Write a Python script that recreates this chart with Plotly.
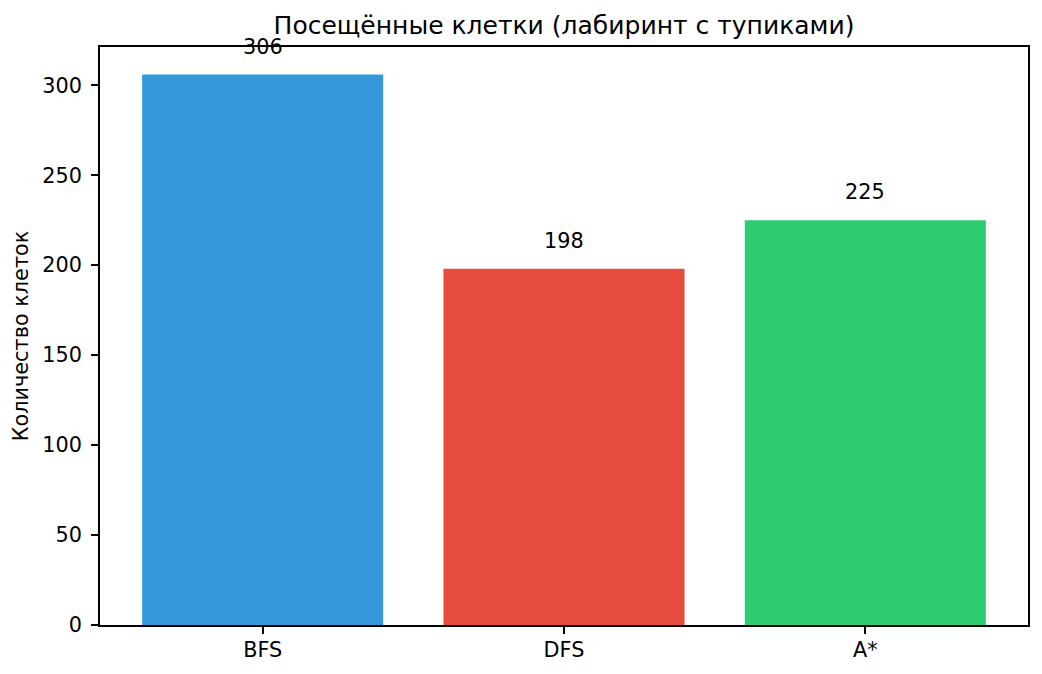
import plotly.graph_objects as go

# Visited cells per algorithm
algorithms = ["BFS", "DFS", "A*"]
visited = [306, 198, 225]
bar_colors = ["#3498db", "#e74c3c", "#2ecc71"]
y_ticks = [0, 50, 100, 150, 200, 250, 300]

font_family = "DejaVu Sans"

fig = go.Figure()

fig.add_trace(go.Bar(
    x=list(range(len(algorithms))),
    y=visited,
    width=0.8,
    marker=dict(color=bar_colors, line=dict(width=0)),
    showlegend=False,
))

# value labels above each bar
for i, v in enumerate(visited):
    fig.add_annotation(
        x=i, y=v + 10, text=str(v),
        xref="x", yref="y",
        xanchor="center", yanchor="bottom", yshift=-4,
        showarrow=False,
        font=dict(family=font_family, size=20.8, color="black"),
    )

axis_common = dict(
    showline=True, linecolor="black", linewidth=1.6, mirror=True,
    showgrid=False, zeroline=False,
    ticks="outside", ticklen=7, tickwidth=1.6, tickcolor="black",
    tickfont=dict(family=font_family, size=20.8, color="black"),
)

# page body has an 8px margin, so the figure is shrunk by that much
fig.update_layout(
    width=1034, height=666,
    margin=dict(l=90, r=14, t=39, b=42),
    plot_bgcolor="white", paper_bgcolor="white",
    font=dict(family=font_family, color="black"),
    title=dict(
        text="Посещённые клетки (лабиринт с тупиками)",
        x=0.5, xref="paper", xanchor="center",
        y=1, yref="paper", yanchor="bottom",
        pad=dict(b=13),
        font=dict(family=font_family, size=25, color="black"),
    ),
    xaxis=dict(
        **axis_common,
        range=[-0.54, 2.54],
        tickmode="array",
        tickvals=list(range(len(algorithms))),
        ticktext=algorithms,
        ticklabelstandoff=-2,
    ),
    yaxis=dict(
        **axis_common,
        range=[0, 321.3],
        tickmode="array",
        tickvals=y_ticks,
        ticklabelstandoff=5,
        title=dict(text="Количество клеток", standoff=8,
                   font=dict(family=font_family, size=20.8, color="black")),
    ),
)

fig.write_html("out.html")
